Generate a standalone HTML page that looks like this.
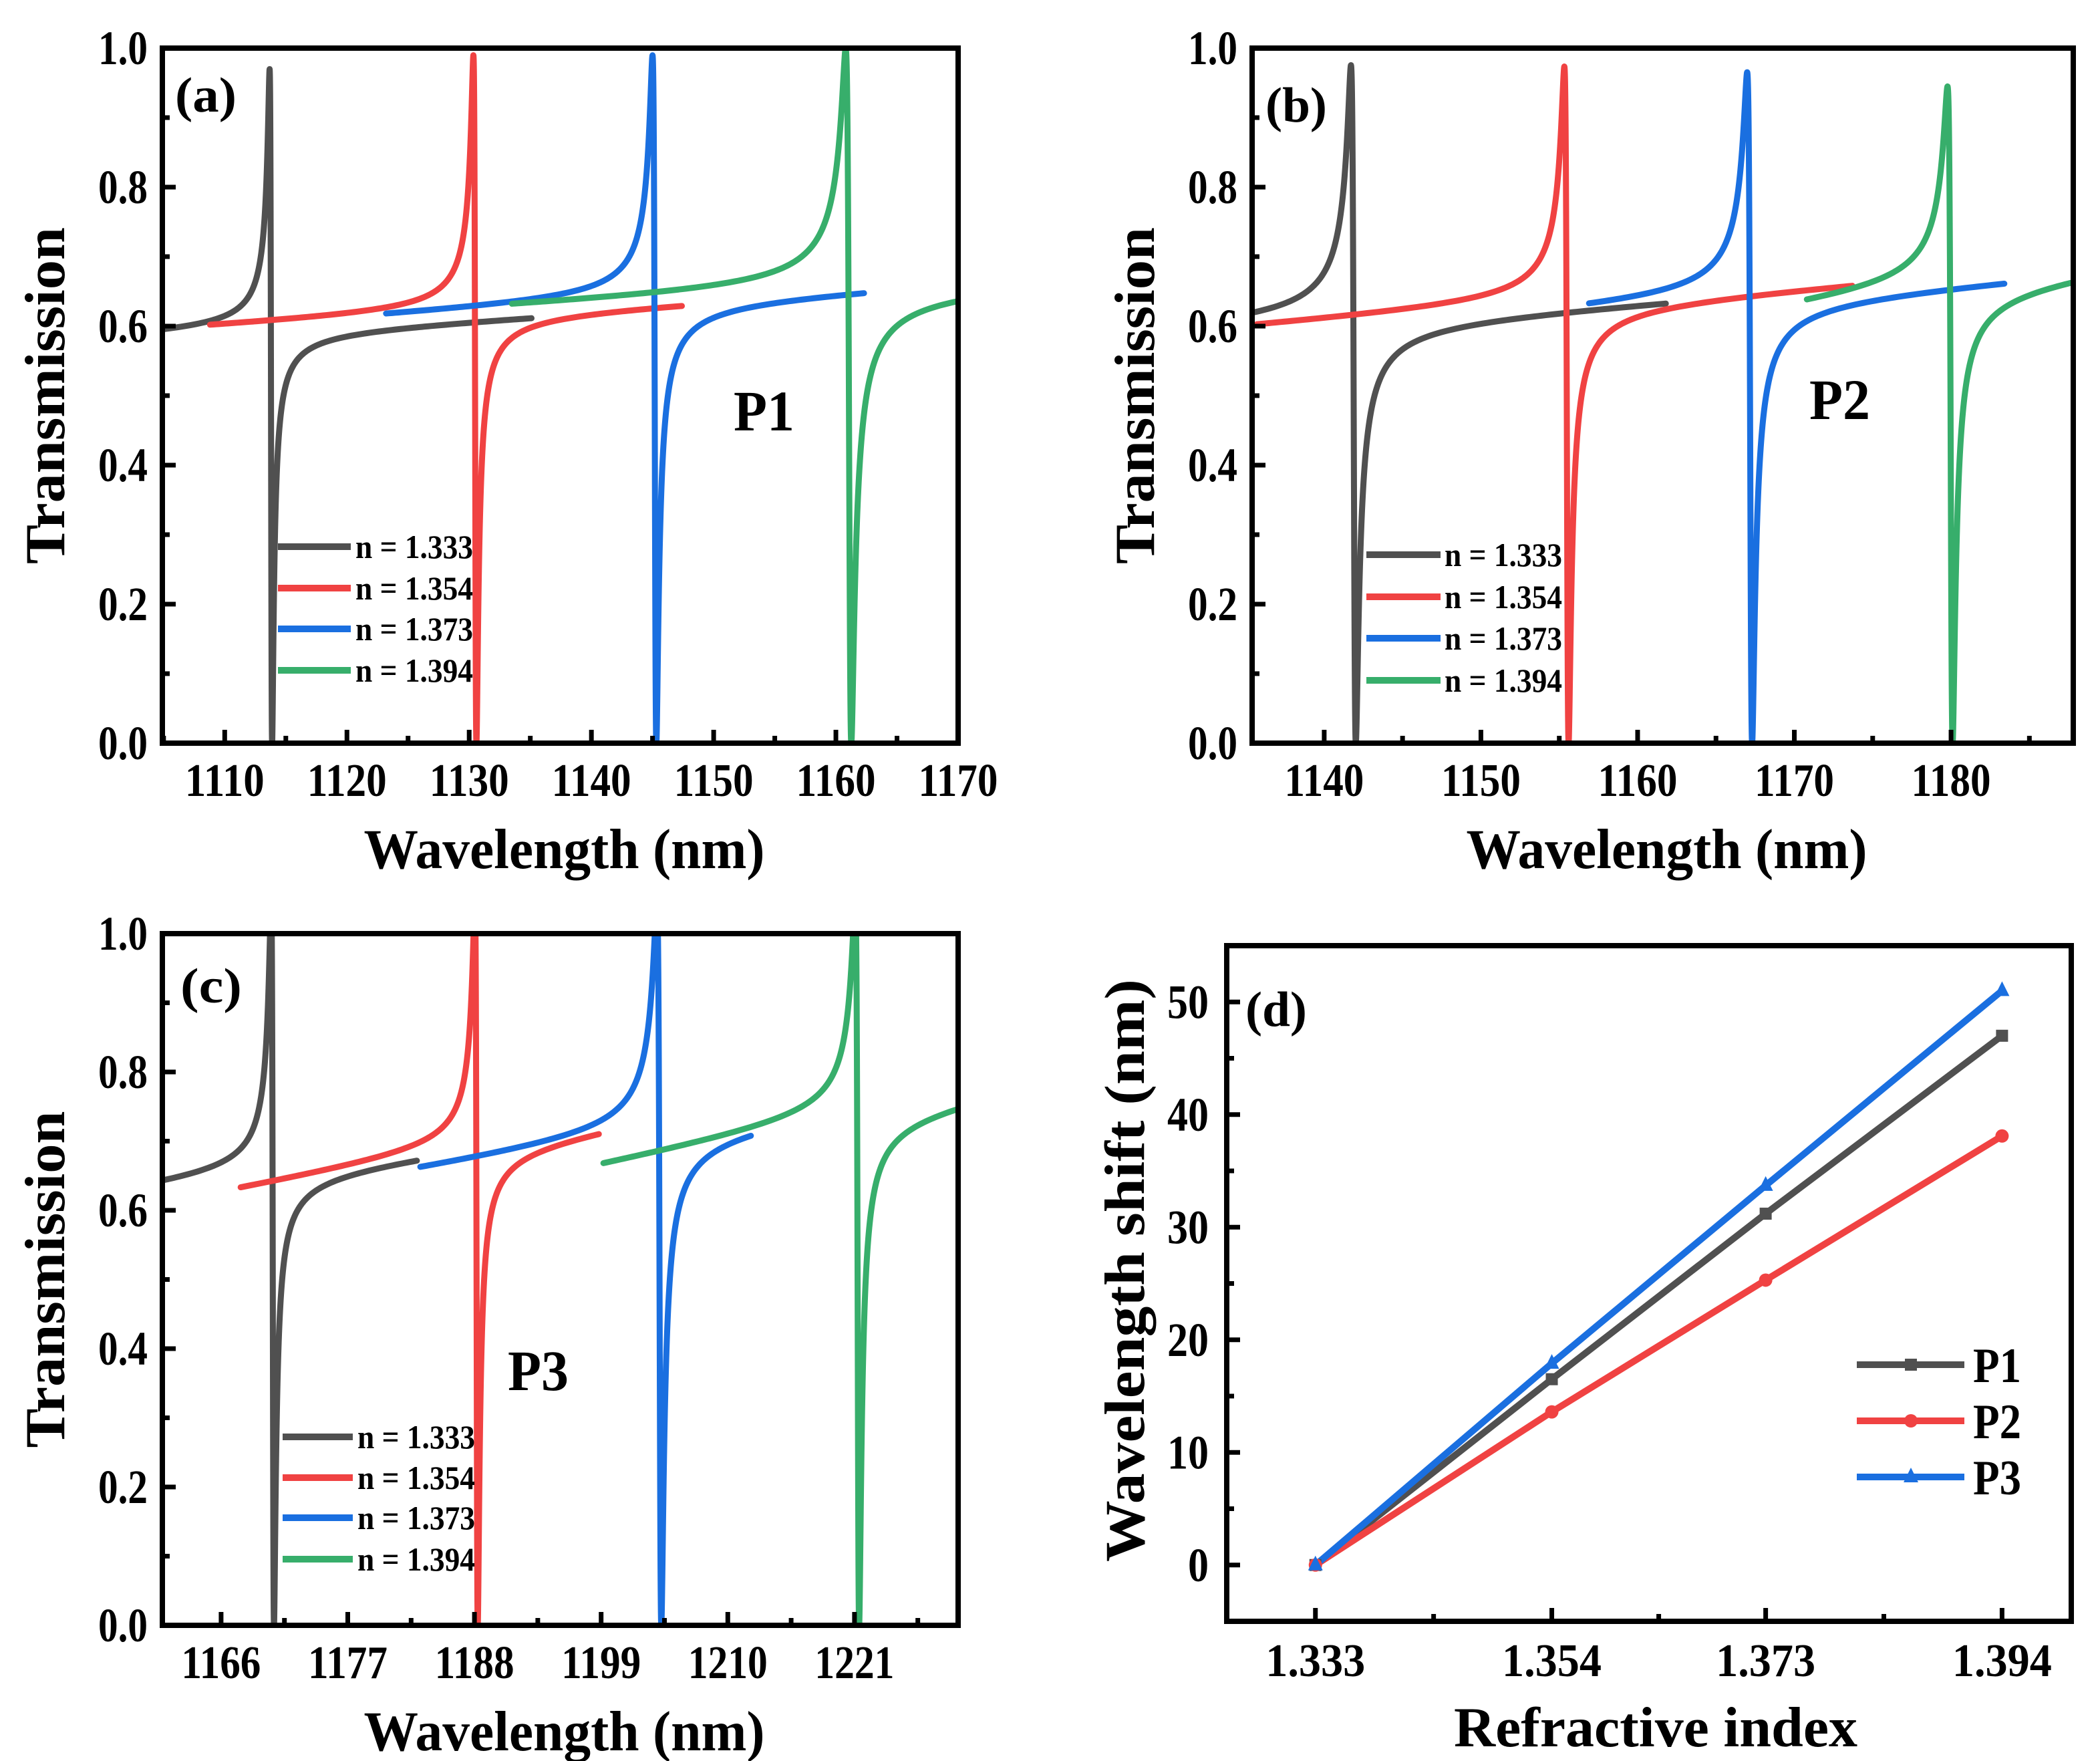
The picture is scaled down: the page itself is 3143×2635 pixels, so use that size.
<!DOCTYPE html>
<html><head><meta charset="utf-8"><title>Fano resonance spectra</title>
<style>
html,body{margin:0;padding:0;background:#fff;}
svg{display:block;}
text{font-family:"Liberation Serif","DejaVu Serif",serif;font-weight:bold;fill:#000;}
</style></head>
<body>
<svg id="chart" xmlns="http://www.w3.org/2000/svg" width="3143" height="2635" viewBox="0 0 3143 2635">
<rect x="0" y="0" width="3143" height="2635" fill="#fff"/>
</svg>
<script>
// ---------- data ----------
const seriesColors = ['#505050', '#f04242', '#1a6fe0', '#37ae6b'];
const legendLabels = ['n = 1.333', 'n = 1.354', 'n = 1.373', 'n = 1.394'];
const yTickValsT = [0, 0.2, 0.4, 0.6, 0.8, 1.0];
const yTickLabelsT = ['0.0', '0.2', '0.4', '0.6', '0.8', '1.0'];
const yMinorT = [0.1, 0.3, 0.5, 0.7, 0.9];

// panel (a) P1
const aXTicks = [1110, 1120, 1130, 1140, 1150, 1160, 1170];
const aXMinor = [1105, 1115, 1125, 1135, 1145, 1155, 1165];
const aRes = [1113.8, 1130.5, 1145.2, 1161.1];
const aPeak = [0.97, 0.99, 0.99, 1.0];
const aStart = [1104.9, 1108.8, 1123.2, 1133.5];
const aEnd = [1135.1, 1147.4, 1162.3, 1170];
const aBase0 = [0.585, 0.597, 0.612, 0.625];
const aBase1 = [0.616, 0.636, 0.656, 0.660];
const aGamma = [0.10, 0.12, 0.15, 0.22];

// panel (b) P2
const bXTicks = [1140, 1150, 1160, 1170, 1180];
const bXMinor = [1145, 1155, 1165, 1175, 1185];
const bRes = [1141.9, 1155.5, 1167.2, 1180.0];
const bPeak = [0.976, 0.974, 0.966, 0.946];
const bStart = [1135.4, 1135.7, 1156.9, 1170.8];
const bEnd = [1161.8, 1173.7, 1183.4, 1187.6];
const bBase0 = [0.598, 0.597, 0.620, 0.625];
const bBase1 = [0.640, 0.665, 0.670, 0.680];
const bGamma = [0.15, 0.13, 0.15, 0.15];

// panel (c) P3
const cXTicks = [1166, 1177, 1188, 1199, 1210, 1221];
const cXMinor = [1171.5, 1182.5, 1193.5, 1204.5, 1215.5, 1226.5];
const cRes = [1170.5, 1188.2, 1204.1, 1221.3];
const cPeak = [1.05, 1.05, 1.05, 1.05];
const cStart = [1160.9, 1167.7, 1183.3, 1199.2];
const cEnd = [1183.0, 1198.8, 1212.0, 1230.0];
const cBase0 = [0.631, 0.628, 0.655, 0.662];
const cBase1 = [0.682, 0.722, 0.731, 0.765];
const cGamma = [0.12, 0.12, 0.18, 0.16];

// panel (d) sensitivity
const dIndex = [1.333, 1.354, 1.373, 1.394];
const dIndexLabels = ['1.333', '1.354', '1.373', '1.394'];
const dP1 = [0, 16.5, 31.2, 47.0];
const dP2 = [0, 13.6, 25.3, 38.1];
const dP3 = [0, 17.9, 33.7, 51.0];
const dYTicks = [0, 10, 20, 30, 40, 50];
const dYMinor = [5, 15, 25, 35, 45];
const dSeriesNames = ['P1', 'P2', 'P3'];

// ---------- helpers ----------
const svg = document.getElementById('chart');
const NS = 'http://www.w3.org/2000/svg';
function el(tag, attrs, parent) {
  const e = document.createElementNS(NS, tag);
  for (const k in attrs) e.setAttribute(k, attrs[k]);
  (parent || svg).appendChild(e);
  return e;
}
function txt(str, x, y, size, len, anchor, parent) {
  const t = el('text', {x: x, y: y, 'font-size': size, 'text-anchor': anchor || 'middle'}, parent);
  if (len) { t.setAttribute('textLength', len); t.setAttribute('lengthAdjust', 'spacingAndGlyphs'); }
  t.textContent = str;
  return t;
}

// ---------- spectrum panels ----------
const specPanels = [
  {id:'a', L:243, R:1434, T:72, B:1112, xmin:1104.9, xmax:1170, xt:aXTicks, xm:aXMinor,
   res:aRes, peak:aPeak, st:aStart, en:aEnd, b0:aBase0, b1:aBase1, g:aGamma,
   lab:'(a)', labX:262, labY:167, pl:'P1', plX:1098, plY:644,
   legL:416, legR:525, legT:532, legRows:[818, 880, 941, 1003]},
  {id:'b', L:1874, R:3103, T:72, B:1112, xmin:1135.4, xmax:1187.8, xt:bXTicks, xm:bXMinor,
   res:bRes, peak:bPeak, st:bStart, en:bEnd, b0:bBase0, b1:bBase1, g:bGamma,
   lab:'(b)', labX:1894, labY:182, pl:'P2', plX:2708, plY:627,
   legL:2045, legR:2156, legT:2162, legRows:[830, 893, 955, 1018]},
  {id:'c', L:243, R:1434, T:1397, B:2432, xmin:1160.9, xmax:1230.0, xt:cXTicks, xm:cXMinor,
   res:cRes, peak:cPeak, st:cStart, en:cEnd, b0:cBase0, b1:cBase1, g:cGamma,
   lab:'(c)', labX:270, labY:1500, pl:'P3', plX:760, plY:2080,
   legL:423, legR:528, legT:535, legRows:[2150, 2211, 2271, 2333]}
];

specPanels.forEach(function(p) {
  const grp = el('g', {});
  
  
  const sx = v => p.L + (v - p.xmin) / (p.xmax - p.xmin) * (p.R - p.L);
  const sy = v => p.B - v * (p.B - p.T);

  const clip = el('clipPath', {id: 'clip-' + p.id}, grp);
  el('rect', {x: p.L, y: p.T, width: p.R - p.L, height: p.B - p.T}, clip);

  const sg = el('g', {'clip-path': 'url(#clip-' + p.id + ')'}, grp);
  
  
  for (let i = 0; i < 4; i++) {
    const lam0 = p.res[i], g = p.g[i];
    const base = l => p.b0[i] + (p.b1[i] - p.b0[i]) * (l - p.st[i]) / (p.en[i] - p.st[i]);
    const q = -Math.sqrt(Math.max(p.peak[i] / base(lam0) - 1, 0.01));
    let d = '';
    let l = p.st[i];
    let first = true;
    while (true) {
      const e = (l - lam0) / g;
      const T = base(l) * (e + q) * (e + q) / (1 + e * e);
      d += (first ? 'M' : 'L') + sx(l).toFixed(2) + ',' + sy(T).toFixed(2);
      first = false;
      if (l >= p.en[i]) break;
      const step = Math.min(0.25, 0.0015 + 0.04 * Math.abs(l - lam0));
      l = Math.min(l + step, p.en[i]);
    }
    const path = el('path', {d: d, fill: 'none', stroke: seriesColors[i], 'stroke-width': 9, 'stroke-linejoin': 'round', 'stroke-linecap': 'round'}, sg);
    
    
  }

  const frame = el('rect', {x: p.L, y: p.T, width: p.R - p.L, height: p.B - p.T, fill: 'none', stroke: '#000', 'stroke-width': 8}, grp);
  
  

  p.xt.forEach(function(v, k) {
    const x = sx(v);
    const tk = el('line', {x1: x, x2: x, y1: p.B, y2: p.B - 20, stroke: '#000', 'stroke-width': 7}, grp);
    
    
    const t = txt(String(v), x, p.B + 79, 70, 119, 'middle', grp);
    
    
  });
  p.xm.forEach(function(v) {
    if (v <= p.xmin || v >= p.xmax) return;
    const x = sx(v);
    const tk = el('line', {x1: x, x2: x, y1: p.B, y2: p.B - 11, stroke: '#000', 'stroke-width': 7}, grp);
    
    
  });
  yTickValsT.forEach(function(v, k) {
    const y = sy(v);
    const tk = el('line', {x1: p.L, x2: p.L + 20, y1: y, y2: y, stroke: '#000', 'stroke-width': 7}, grp);
    
    
    const t = txt(yTickLabelsT[k], p.L - 22, y + 24, 72, 74, 'end', grp);
    
    
  });
  yMinorT.forEach(function(v) {
    const y = sy(v);
    const tk = el('line', {x1: p.L, x2: p.L + 11, y1: y, y2: y, stroke: '#000', 'stroke-width': 7}, grp);
    
    
  });

  const xt = txt('Wavelength (nm)', (p.L + p.R) / 2 + 6, p.B + 187, 85, 600, 'middle', grp);
  
  
  const yc = (p.T + p.B) / 2;
  const yx = p.L - 147;
  const yt = txt('Transmission', 0, 0, 85, 504, 'middle', grp);
  yt.setAttribute('transform', 'translate(' + yx + ',' + yc + ') rotate(-90)');
  
  

  const pl = txt(p.lab, p.labX, p.labY, 74, 92, 'start', grp);
  
  
  const pk = txt(p.pl, p.plX, p.plY, 86, 91, 'start', grp);
  
  

  const lg = el('g', {}, grp);
  
  
  for (let i = 0; i < 4; i++) {
    const y = p.legRows[i];
    const ln = el('line', {x1: p.legL, x2: p.legR, y1: y, y2: y, stroke: seriesColors[i], 'stroke-width': 10}, lg);
    
    
    const t = txt(legendLabels[i], p.legT, y + 17, 50, 176, 'start', lg);
    
    
  }
});

// ---------- panel (d) ----------
(function() {
  const L = 1836, R = 3100, T = 1415, B = 2426;
  const xmin = 1.32512, xmax = 1.40015, ymin = -5, ymax = 55;
  const sx = v => L + (v - xmin) / (xmax - xmin) * (R - L);
  const sy = v => B - (v - ymin) / (ymax - ymin) * (B - T);
  const grp = el('g', {});
  
  

  const series = [dP1, dP2, dP3];
  const cols = [seriesColors[0], seriesColors[1], seriesColors[2]];
  series.forEach(function(vals, s) {
    const pts = dIndex.map((v, k) => sx(v).toFixed(1) + ',' + sy(vals[k]).toFixed(1)).join(' ');
    const pl = el('polyline', {points: pts, fill: 'none', stroke: cols[s], 'stroke-width': 10, 'stroke-linejoin': 'round'}, grp);
    
    
  });
  function marker(s, x, y, parent) {
    let m;
    if (s === 0) m = el('rect', {x: x - 9, y: y - 9, width: 18, height: 18, fill: cols[0]}, parent);
    else if (s === 1) m = el('circle', {cx: x, cy: y, r: 10, fill: cols[1]}, parent);
    else m = el('polygon', {points: (x) + ',' + (y - 14) + ' ' + (x - 11) + ',' + (y + 8) + ' ' + (x + 11) + ',' + (y + 8), fill: cols[2]}, parent);
    return m;
  }
  series.forEach(function(vals, s) {
    dIndex.forEach(function(v, k) {
      const m = marker(s, sx(v), sy(vals[k]), grp);
      
      
    });
  });

  const frame = el('rect', {x: L, y: T, width: R - L, height: B - T, fill: 'none', stroke: '#000', 'stroke-width': 8}, grp);
  
  

  dIndex.forEach(function(v, k) {
    const x = sx(v);
    const tk = el('line', {x1: x, x2: x, y1: B, y2: B - 20, stroke: '#000', 'stroke-width': 7}, grp);
    
    
    const t = txt(dIndexLabels[k], x, B + 82, 70, 149, 'middle', grp);
    
    
    if (k < dIndex.length - 1) {
      const xm = sx((v + dIndex[k + 1]) / 2);
      const mk = el('line', {x1: xm, x2: xm, y1: B, y2: B - 11, stroke: '#000', 'stroke-width': 7}, grp);
      
      
    }
  });
  dYTicks.forEach(function(v) {
    const y = sy(v);
    const tk = el('line', {x1: L, x2: L + 20, y1: y, y2: y, stroke: '#000', 'stroke-width': 7}, grp);
    
    
    const s = String(v);
    const t = txt(s, L - 27, y + 24, 72, s.length * 31, 'end', grp);
    
    
  });
  dYMinor.forEach(function(v) {
    const y = sy(v);
    const tk = el('line', {x1: L, x2: L + 11, y1: y, y2: y, stroke: '#000', 'stroke-width': 7}, grp);
    
    
  });

  const xt = txt('Refractive index', 2478, B + 187, 85, 604, 'middle', grp);
  
  
  const yt = txt('Wavelength shift (nm)', 0, 0, 85, 872, 'middle', grp);
  yt.setAttribute('transform', 'translate(1712,1901) rotate(-90)');
  
  

  const pl = txt('(d)', 1864, 1535, 74, 92, 'start', grp);
  
  

  const lg = el('g', {}, grp);
  
  
  const rows = [2042, 2126, 2210];
  for (let s = 0; s < 3; s++) {
    const y = rows[s];
    const ln = el('line', {x1: 2779, x2: 2940, y1: y, y2: y, stroke: cols[s], 'stroke-width': 10}, lg);
    
    
    const m = marker(s, 2860, y, lg);
    
    
    const t = txt(dSeriesNames[s], 2953, y + 26, 74, 72, 'start', lg);
    
    
  }
})();
</script>
</body></html>
